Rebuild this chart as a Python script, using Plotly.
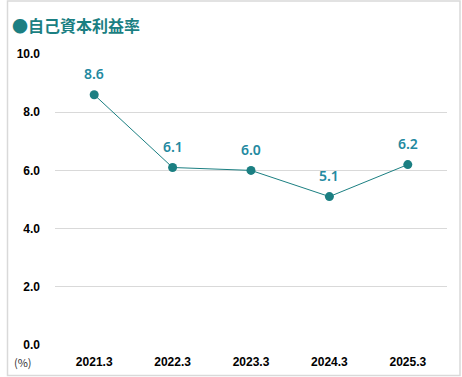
import plotly.graph_objects as go

categories = ["2021.3", "2022.3", "2023.3", "2024.3", "2025.3"]
roe = [8.6, 6.1, 6.0, 5.1, 6.2]
y_ticks = [0, 2, 4, 6, 8, 10]
y_tick_labels = ["0.0", "2.0", "4.0", "6.0", "8.0", "10.0"]

TEAL = "#1b7f82"
LABEL = "#2389a0"

W, H = 462, 377
L, R, T, B = 55, 15, 54, 32
pw, ph = W - L - R, H - T - B

fig = go.Figure()
fig.add_trace(go.Scatter(
    x=categories, y=roe, mode="lines+markers",
    line=dict(color=TEAL, width=1),
    marker=dict(color=TEAL, size=9),
    hoverinfo="skip", showlegend=False,
))

for i, v in enumerate(roe):
    fig.add_annotation(x=i, y=v, text=f"{v:.1f}", showarrow=False, yshift=21,
                       font=dict(family="Noto Sans", size=14, color=LABEL, weight=600))

fig.add_annotation(xref="paper", yref="paper", x=(23 - L) / pw, y=-17 / ph,
                   xanchor="center", yanchor="middle", text="(%)", showarrow=False,
                   font=dict(family="Noto Sans CJK JP", size=11, color="#333"))

fig.add_annotation(xref="paper", yref="paper", x=(10 - L) / pw, y=(T - 25) / ph + 1,
                   xanchor="left", yanchor="middle", text="●自己資本利益率", showarrow=False,
                   font=dict(family="Noto Sans CJK JP", size=16, color=TEAL, weight="bold"))

fig.add_shape(type="rect", xref="paper", yref="paper",
              x0=(7.5 - L) / pw, x1=(460 - L) / pw,
              y0=-(B - 1.5) / ph, y1=1 + (T - 1) / ph,
              line=dict(color="#d9d9d9", width=1.5), layer="below")

fig.update_layout(
    width=W, height=H,
    margin=dict(l=L, r=R, t=T, b=B),
    paper_bgcolor="white", plot_bgcolor="white",
    xaxis=dict(type="category", range=[-0.5, 4.5], showgrid=False, showline=False, ticks="",
               automargin=False,
               tickfont=dict(family="Liberation Sans", size=12, color="#000", weight="bold"),
               ticklabelstandoff=8),
    yaxis=dict(range=[0, 10], tickvals=y_ticks, ticktext=y_tick_labels,
               showgrid=True, gridcolor="#d9d9d9", gridwidth=1, zeroline=False,
               showline=False, ticks="", automargin=False,
               tickfont=dict(family="Liberation Sans", size=12, color="#000", weight="bold"),
               ticklabelstandoff=14),
)

fig.write_html("out.html", config={"displayModeBar": False},
               post_script="document.body.style.margin='0';document.body.style.overflow='hidden';")
